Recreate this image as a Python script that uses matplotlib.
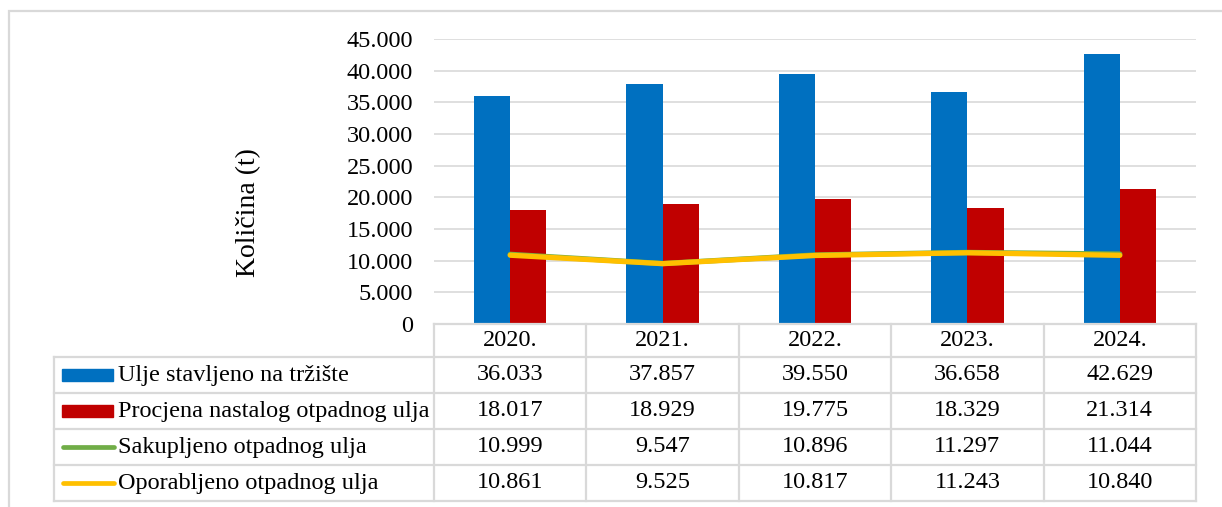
import matplotlib
matplotlib.use('Agg')
import matplotlib.pyplot as plt
from matplotlib.patches import Rectangle
from matplotlib.lines import Line2D
from matplotlib.ticker import FuncFormatter, MultipleLocator

plt.rcParams['font.family'] = ['Liberation Serif', 'DejaVu Serif']

# Data
years = ['2020.', '2021.', '2022.', '2023.', '2024.']
stavljeno = [36033, 37857, 39550, 36658, 42629]
procjena = [18017, 18929, 19775, 18329, 21314]
sakupljeno = [10999, 9547, 10896, 11297, 11044]
oporabljeno = [10861, 9525, 10817, 11243, 10840]

series_names = ['Ulje stavljeno na tržište', 'Procjena nastalog otpadnog ulja',
                'Sakupljeno otpadnog ulja', 'Oporabljeno otpadnog ulja']
series_vals = [stavljeno, procjena, sakupljeno, oporabljeno]
colors = ['#0070C0', '#C00000', '#70AD47', '#FFC000']
kinds = ['bar', 'bar', 'line', 'line']

W, H = 1222, 507
grid_c = '#D9D9D9'
fs = 17.5

fig = plt.figure(figsize=(W / 100, H / 100), dpi=100)

# pixel geometry (from the top-left corner)
x0, x1 = 434, 1196
y_top, y_zero = 39, 324
lab_x = 54
row_h = [324, 357, 393, 429, 465, 501]

ax = fig.add_axes([x0 / W, 1 - y_zero / H, (x1 - x0) / W, (y_zero - y_top) / H])
n = len(years)
xs = list(range(n))
bw = 0.237
ax.bar([x - bw / 2 for x in xs], stavljeno, width=bw, color=colors[0], zorder=2)
ax.bar([x + bw / 2 for x in xs], procjena, width=bw, color=colors[1], zorder=2)
ax.plot(xs, sakupljeno, color=colors[2], lw=3.8, solid_capstyle='round', zorder=3)
ax.plot(xs, oporabljeno, color=colors[3], lw=3.8, solid_capstyle='round', zorder=4)

ax.set_xlim(-0.5, n - 0.5)
ax.set_ylim(0, 45000)
ax.yaxis.set_major_locator(MultipleLocator(5000))
ax.yaxis.set_major_formatter(FuncFormatter(lambda v, p: f'{v:,.0f}'.replace(',', '.')))
ax.tick_params(axis='y', length=0, pad=15, labelsize=fs)
ax.set_xticks([])
ax.grid(axis='y', color=grid_c, lw=1.2, zorder=0)
for s in ax.spines.values():
    s.set_visible(False)
ax.set_ylabel('Količina (t)', fontsize=20)
ax.yaxis.set_label_coords(-0.227, 0.39)

# data table below the plot
def fx(px):
    return px / W

def fy(py):
    return 1 - py / H

tl = dict(color=grid_c, lw=1.6, transform=fig.transFigure)
fig.add_artist(Line2D([fx(x0), fx(x1)], [fy(row_h[0])] * 2, **tl))
for r in row_h[1:]:
    fig.add_artist(Line2D([fx(lab_x), fx(x1)], [fy(r)] * 2, **tl))
fig.add_artist(Line2D([fx(lab_x)] * 2, [fy(row_h[1]), fy(row_h[-1])], **tl))
col_w = (x1 - x0) / n
for i in range(n + 1):
    cx = x0 + i * col_w
    fig.add_artist(Line2D([fx(cx)] * 2, [fy(row_h[0]), fy(row_h[-1])], **tl))

for i, yr in enumerate(years):
    cx = x0 + (i + 0.5) * col_w
    fig.text(fx(cx), fy((row_h[0] + row_h[1]) / 2), yr, ha='center', va='center', fontsize=fs)
    for j, vals in enumerate(series_vals):
        cy = (row_h[j + 1] + row_h[j + 2]) / 2
        txt = f'{vals[i]:,}'.replace(',', '.')
        fig.text(fx(cx), fy(cy), txt, ha='center', va='center', fontsize=fs)

for j, name in enumerate(series_names):
    cy = (row_h[j + 1] + row_h[j + 2]) / 2
    if kinds[j] == 'bar':
        fig.add_artist(Rectangle((fx(62), fy(cy + 6)), fx(113) - fx(62), 12 / H,
                                 color=colors[j], transform=fig.transFigure))
    else:
        fig.add_artist(Line2D([fx(63), fx(114)], [fy(cy)] * 2, color=colors[j], lw=3.4,
                              solid_capstyle='round', transform=fig.transFigure))
    fig.text(fx(118), fy(cy), name, ha='left', va='center', fontsize=fs)

# outer chart border
fig.add_artist(Rectangle((fx(8.5), fy(520)), fx(1240) - fx(8.5), (520 - 10.5) / H,
                         fill=False, edgecolor=grid_c, lw=1.6, transform=fig.transFigure))

fig.savefig('out.png', dpi=100)
